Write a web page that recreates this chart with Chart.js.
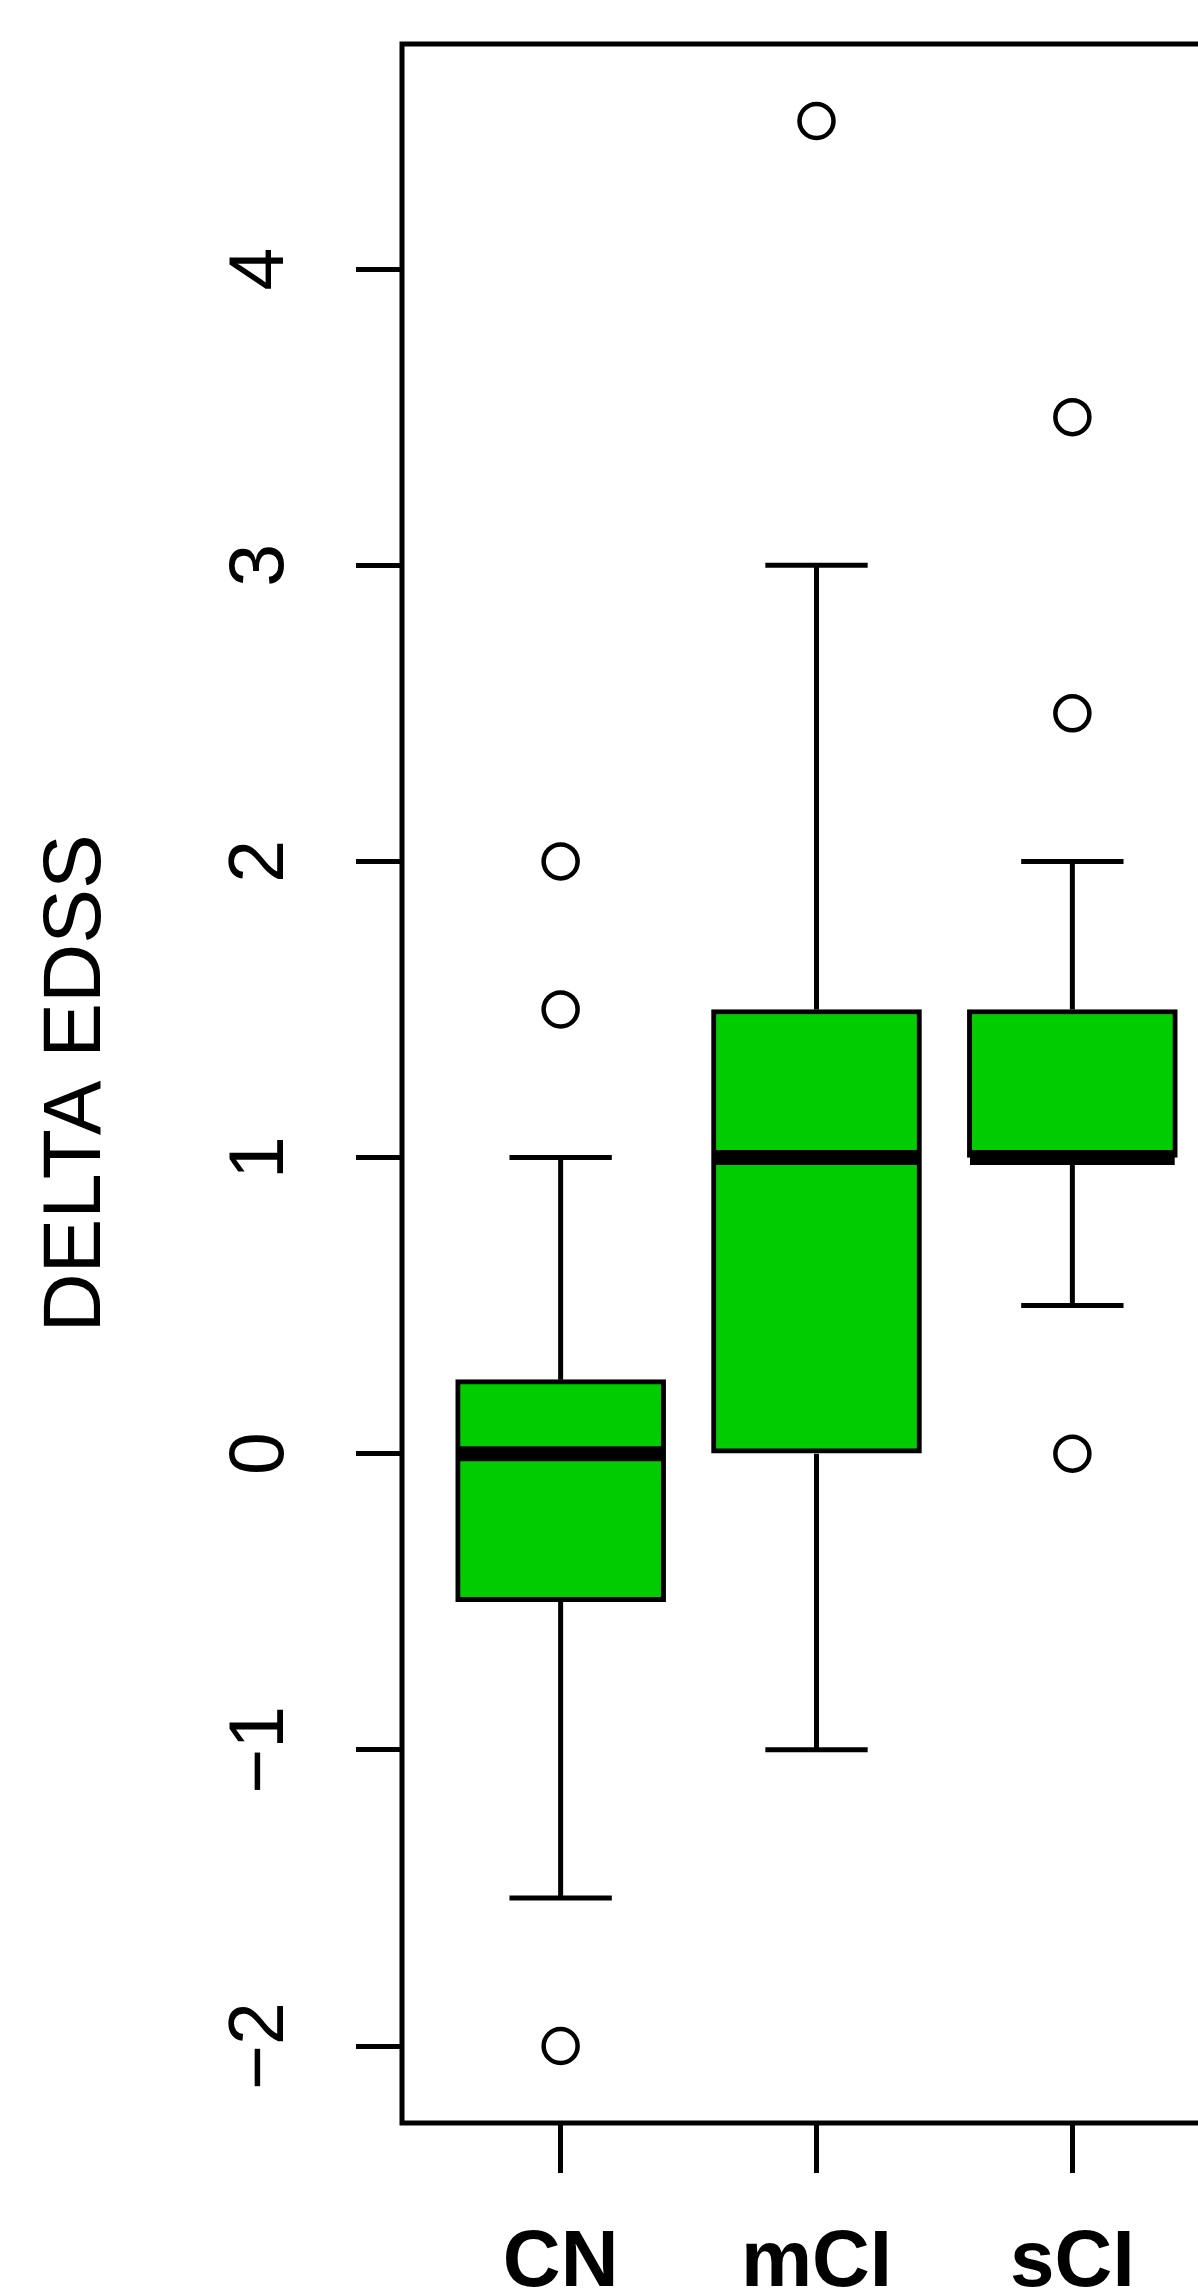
<!doctype html>
<html>

<head>
    <title>DELTA EDSS boxplot</title>
    <script src="https://cdn.jsdelivr.net/npm/chart.js@4.4.1/dist/chart.umd.min.js"></script>
    <style>
        body { margin: 0; background: #fff; }
        #canvas-holder { width: 1198px; height: 2294px; overflow: hidden; }
    </style>
</head>

<body>
    <div id="canvas-holder">
        <canvas id="chart-area" width="1240" height="2294"></canvas>
    </div>
    <script>
    // box summaries
    var groups = ["CN", "mCI", "sCI"];
    var q1 = [-0.5, 0, 1];
    var medians = [0, 1, 1];
    var q3 = [0.25, 1.5, 1.5];
    var whiskerLow = [-1.5, -1, 0.5];
    var whiskerHigh = [1, 3, 2];
    var outliers = [[2, 1.5, -2], [4.5], [3.5, 2.5, 0]];
    var yTicks = [-2, -1, 0, 1, 2, 3, 4];

    // R-style axis limits (data range padded by 4%)
    var yLimits = [-2.26, 4.76];
    var xLimits = [0.38, 3.62];
    var boxHalf = 0.4;
    var stapleHalf = 0.2;

    var font = "'Liberation Sans', Arial, Helvetica, sans-serif";

    function segment(x1, y1, x2, y2, width) {
        return {
            type: 'line',
            data: [{x: x1, y: y1}, {x: x2, y: y2}],
            borderColor: '#000',
            borderWidth: width,
            borderCapStyle: 'butt',
            pointRadius: 0,
            fill: false,
            order: 2
        };
    }

    var datasets = [{
        type: 'bar',
        data: groups.map(function(g, i) {
            return {x: i + 1, y: [q1[i], q3[i]]};
        }),
        backgroundColor: '#00CD00',
        borderColor: '#000',
        borderWidth: 5,
        borderSkipped: false,
        barThickness: 210,
        order: 3
    }];

    groups.forEach(function(g, i) {
        var x = i + 1;
        datasets.push(segment(x, q3[i], x, whiskerHigh[i], 5));
        datasets.push(segment(x, q1[i], x, whiskerLow[i], 5));
        datasets.push(segment(x - stapleHalf, whiskerHigh[i], x + stapleHalf, whiskerHigh[i], 5));
        datasets.push(segment(x - stapleHalf, whiskerLow[i], x + stapleHalf, whiskerLow[i], 5));
        datasets.push(segment(x - boxHalf, medians[i], x + boxHalf, medians[i], 15));
    });

    var outlierPoints = [];
    outliers.forEach(function(vals, i) {
        vals.forEach(function(v) {
            outlierPoints.push({x: i + 1, y: v});
        });
    });

    datasets.push({
        type: 'scatter',
        data: outlierPoints,
        pointStyle: 'circle',
        pointRadius: 17,
        pointBorderWidth: 4.5,
        borderColor: '#000',
        pointBorderColor: '#000',
        pointBackgroundColor: 'rgba(0,0,0,0)',
        backgroundColor: 'rgba(0,0,0,0)',
        order: 1
    });

    var framePlugin = {
        id: 'frame',
        afterDraw: function(chart) {
            var a = chart.chartArea;
            var ctx = chart.ctx;
            ctx.save();
            ctx.strokeStyle = '#000';
            ctx.lineWidth = 5;
            ctx.strokeRect(a.left, a.top, a.right - a.left, a.bottom - a.top);
            ctx.restore();
        }
    };

    function noPadding(s) {
        s.paddingTop = 0;
        s.paddingBottom = 0;
        s.paddingLeft = 0;
        s.paddingRight = 0;
    }

    var config = {
        type: 'scatter',
        data: { datasets: datasets },
        plugins: [framePlugin],
        options: {
            responsive: false,
            animation: false,
            events: [],
            layout: { autoPadding: false, padding: { top: 44, right: 9, left: 0, bottom: 0 } },
            plugins: {
                legend: { display: false },
                tooltip: { enabled: false }
            },
            scales: {
                x: {
                    type: 'linear',
                    bounds: 'data',
                    min: xLimits[0],
                    max: xLimits[1],
                    offset: false,
                    afterBuildTicks: function(s) {
                        s.ticks = groups.map(function(g, i) { return {value: i + 1}; });
                    },
                    afterFit: function(s) { s.height = 171; noPadding(s); },
                    border: { display: false },
                    grid: { offset: false, drawOnChartArea: false, drawTicks: true, tickLength: 50, tickWidth: 5, tickColor: '#000' },
                    ticks: {
                        autoSkip: false,
                        maxRotation: 0,
                        padding: 43,
                        color: '#000',
                        font: { family: font, size: 80, weight: 'bold' },
                        callback: function(v, idx) { return groups[idx]; }
                    }
                },
                y: {
                    type: 'linear',
                    bounds: 'data',
                    min: yLimits[0],
                    max: yLimits[1],
                    afterBuildTicks: function(s) {
                        s.ticks = yTicks.map(function(v) { return {value: v}; });
                    },
                    afterFit: function(s) { s.width = 402; noPadding(s); },
                    border: { display: false },
                    grid: { drawOnChartArea: false, drawTicks: true, tickLength: 46, tickWidth: 5, tickColor: '#000' },
                    title: {
                        display: true,
                        text: 'DELTA EDSS',
                        color: '#000',
                        font: { family: font, size: 82, lineHeight: 1 },
                        padding: { top: 36, bottom: 0 }
                    },
                    ticks: {
                        autoSkip: false,
                        minRotation: 90,
                        maxRotation: 90,
                        crossAlign: 'center',
                        padding: 50,
                        color: '#000',
                        font: { family: font, size: 77 },
                        callback: function(v) { return String(v).replace('-', '\u2212'); }
                    }
                }
            }
        }
    };

    window.onload = function() {
        var ctx = document.getElementById("chart-area").getContext("2d");
        window.myBox = new Chart(ctx, config);
    };
    </script>
</body>

</html>
